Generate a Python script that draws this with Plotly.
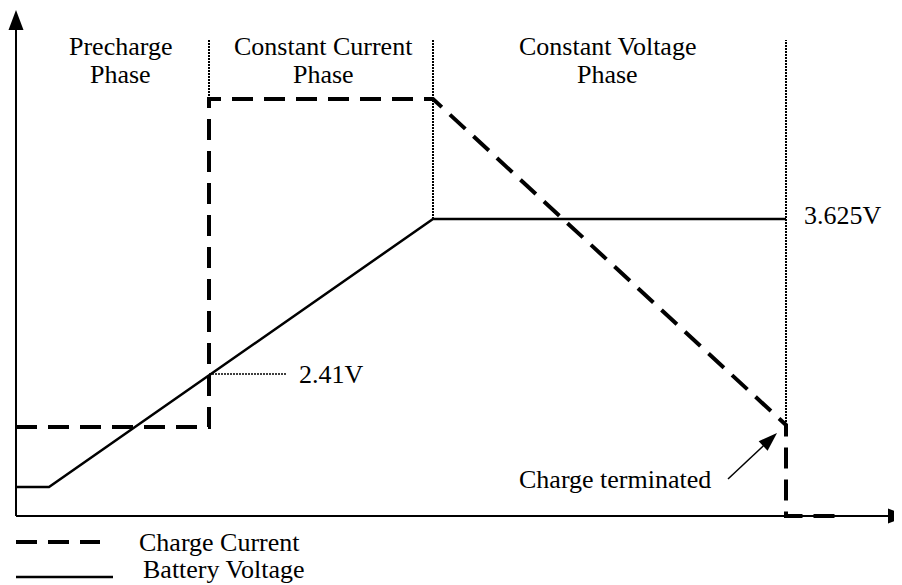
import math
import plotly.graph_objects as go

# ---- schematic data (arbitrary time / level units) ----
current_t = [0, 193, 193, 417, 770, 770, 823]
current_v = [89, 89, 417, 417, 91, 0, 0]
voltage_t = [0, 33, 417, 770]
voltage_v = [29, 29, 297, 297]

phase_bounds = [193, 417, 770]
phase_bottoms = [417, 297, 91]
phase_top = 476
phase_names = [["Precharge", "Phase"], ["Constant Current", "Phase"], ["Constant Voltage", "Phase"]]
phase_centers = [104, 307.5, 591]

threshold_t = 193
threshold_v = 142
threshold_label = "2.41V"
regulation_label = "3.625V"
terminated_t = 770
terminated_label = "Charge terminated"
legend_labels = ["Charge Current", "Battery Voltage"]

FONT = dict(family="Liberation Serif, Times New Roman, serif", size=26, color="black")
DASH = "21px,11px"
DOT = "2px,1px"

fig = go.Figure()

fig.add_trace(go.Scatter(x=voltage_t, y=voltage_v, mode="lines",
                         line=dict(color="black", width=2.5), hoverinfo="skip"))
fig.add_trace(go.Scatter(x=current_t, y=current_v, mode="lines",
                         line=dict(color="black", width=4, dash=DASH), hoverinfo="skip"))

shapes = []
# axes
shapes.append(dict(type="line", x0=0, y0=0, x1=0, y1=490, line=dict(color="black", width=2)))
shapes.append(dict(type="line", x0=0, y0=0, x1=875, y1=0, line=dict(color="black", width=2)))


def head(tx, ty, fx, fy, length, width):
    dx, dy = tx - fx, ty - fy
    n = math.hypot(dx, dy)
    ux, uy = dx / n, dy / n
    bx, by = tx - ux * length, ty - uy * length
    px, py = -uy * width / 2, ux * width / 2
    return dict(type="path",
                path=f"M{tx},{ty} L{bx + px},{by + py} L{bx - px},{by - py} Z",
                fillcolor="black", line=dict(color="black", width=0))


shapes.append(head(0, 506, 0, 0, 20, 15))
shapes.append(head(892, 0, 0, 0, 20, 15))

# phase dividers
for xb, yb in zip(phase_bounds, phase_bottoms):
    shapes.append(dict(type="line", x0=xb, x1=xb, y0=yb, y1=phase_top,
                       line=dict(color="black", width=2, dash=DOT)))

# 2.41V leader
shapes.append(dict(type="line", x0=threshold_t, x1=threshold_t + 78, y0=threshold_v, y1=threshold_v,
                   line=dict(color="black", width=1.5, dash=DOT)))

# charge terminated arrow
tail = (712, 37)
tip = (terminated_t - 9, 83)
shapes.append(dict(type="line", x0=tail[0], y0=tail[1], x1=tip[0] - 8, y1=tip[1] - 7.5,
                   line=dict(color="black", width=1.5)))
shapes.append(head(tip[0], tip[1], tail[0], tail[1], 19, 13))

# legend samples
shapes.append(dict(type="line", x0=0, x1=84, y0=-26, y1=-26,
                   line=dict(color="black", width=4, dash=DASH)))
shapes.append(dict(type="line", x0=0, x1=97, y0=-61, y1=-61,
                   line=dict(color="black", width=2.5)))

annotations = []
for cx, names in zip(phase_centers, phase_names):
    annotations.append(dict(x=cx, y=470, text=names[0], showarrow=False, xanchor="center",
                            yanchor="middle", font=FONT))
    annotations.append(dict(x=cx, y=442, text=names[1], showarrow=False, xanchor="center",
                            yanchor="middle", font=FONT))

annotations.append(dict(x=786, y=301, text=regulation_label, showarrow=False, xanchor="left",
                        yanchor="middle", font=FONT))
annotations.append(dict(x=281, y=142, text=threshold_label, showarrow=False, xanchor="left",
                        yanchor="middle", font=FONT))
annotations.append(dict(x=501, y=37, text=terminated_label, showarrow=False, xanchor="left",
                        yanchor="middle", font=FONT))
annotations.append(dict(x=121, y=-26, text=legend_labels[0], showarrow=False, xanchor="left",
                        yanchor="middle", font=FONT))
annotations.append(dict(x=125, y=-53, text=legend_labels[1], showarrow=False, xanchor="left",
                        yanchor="middle", font=FONT))

# The page body has an 8px margin: size the figure and ranges so that
# one data unit equals one screen pixel and the axes land where intended.
fig.update_layout(
    width=894, height=577,
    margin=dict(l=0, r=0, t=0, b=0),
    paper_bgcolor="white", plot_bgcolor="white",
    showlegend=False,
    xaxis=dict(range=[-8, 886], visible=False, fixedrange=True),
    yaxis=dict(range=[-69, 508], visible=False, fixedrange=True),
    shapes=shapes,
    annotations=annotations,
)

fig.write_html("out.html")
